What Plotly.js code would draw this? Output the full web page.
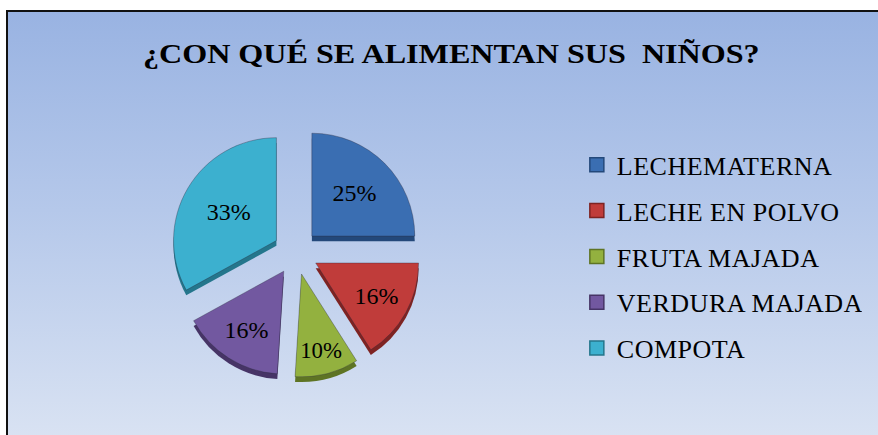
<!DOCTYPE html>
<html>
<head>
<meta charset="utf-8">
<script src="https://cdn.plot.ly/plotly-3.0.1.min.js"></script>
<style>
  html, body { margin: 0; padding: 0; background: #ffffff; }
  #wrap { position: relative; width: 878px; height: 435px; overflow: hidden; }
  #bg { position: absolute; left: 6px; top: 10px; width: 880px; height: 440px;
        border-left: 2px solid #111; border-top: 2px solid #111;
        background: linear-gradient(to bottom, #99b3e2 0%, #b5c8ea 45%, #dbe4f3 100%); }
  #chart { position: absolute; left: 0; top: 0; width: 878px; height: 435px; }
  #chart .gtitle { transform-box: fill-box; transform-origin: 50% 50%; transform: scaleX(1.19); }
  #chart .legendtext { letter-spacing: 0.5px; }
</style>
</head>
<body>
<div id="wrap">
  <div id="bg"></div>
  <div id="chart"></div>
</div>
<script>
const titleText = '¿CON QUÉ SE ALIMENTAN SUS\u00a0 NIÑOS?';
const labels = ['LECHEMATERNA', 'LECHE EN POLVO', 'FRUTA MAJADA', 'VERDURA MAJADA', 'COMPOTA'];
const values = [25, 16, 10, 16, 33];
const colors = ['#3a6eb2', '#c03c3a', '#93b13f', '#7258a0', '#3cb0cf'];
const sideColors = ['#23487a', '#7e2322', '#5e7424', '#463466', '#24768c'];

const font = 'Liberation Serif';
const pieDomainX = [0.194, 0.480];
const pieDomainY = [0.132, 0.709];
const depth = 0.012;
const pulls = [0.22, 0.22, 0.22, 0.22, 0.22];

const traces = [
  {
    type: 'pie', labels: labels, values: values, sort: false,
    direction: 'clockwise', rotation: 0, pull: pulls,
    domain: {x: pieDomainX, y: [pieDomainY[0] - depth, pieDomainY[1] - depth]},
    marker: {colors: sideColors, line: {width: 0}},
    textinfo: 'none', hoverinfo: 'skip', showlegend: false
  },
  {
    type: 'pie', labels: labels, values: values, sort: false,
    direction: 'clockwise', rotation: 0, pull: pulls,
    domain: {x: pieDomainX, y: pieDomainY},
    marker: {colors: colors, line: {color: 'rgba(40,40,60,0.35)', width: 1}},
    textinfo: 'percent', textposition: 'inside', insidetextorientation: 'horizontal',
    textfont: {family: font, size: 24, color: '#000'},
    insidetextfont: {family: font, size: 24, color: '#000'},
    showlegend: false
  }
];
labels.forEach(function (lab, i) {
  traces.push({
    type: 'scatter', mode: 'markers', x: [null], y: [null], name: lab,
    legendgroup: 'g' + i,
    marker: {symbol: 'square', size: 14, color: colors[i], line: {color: sideColors[i], width: 1.5}},
    hoverinfo: 'skip'
  });
});

const layout = {
  width: 878, height: 435,
  margin: {l: 0, r: 0, t: 0, b: 0},
  font: {family: font, color: '#000'},
  paper_bgcolor: 'rgba(0,0,0,0)', plot_bgcolor: 'rgba(0,0,0,0)',
  title: {text: titleText, font: {family: font, size: 27, weight: 'bold', color: '#000'},
          x: 0.514, xanchor: 'center', y: 0.8766, yref: 'container', yanchor: 'middle'},
  xaxis: {visible: false}, yaxis: {visible: false},
  showlegend: true,
  legend: {x: 0.657, xanchor: 'left', y: 0.675, yanchor: 'top',
           font: {family: font, size: 26, color: '#000'},
           traceorder: 'grouped', tracegroupgap: 9,
           bgcolor: 'rgba(0,0,0,0)', borderwidth: 0, itemclick: false}
};

Plotly.newPlot('chart', traces, layout, {displayModeBar: false, staticPlot: true});
</script>
</body>
</html>
